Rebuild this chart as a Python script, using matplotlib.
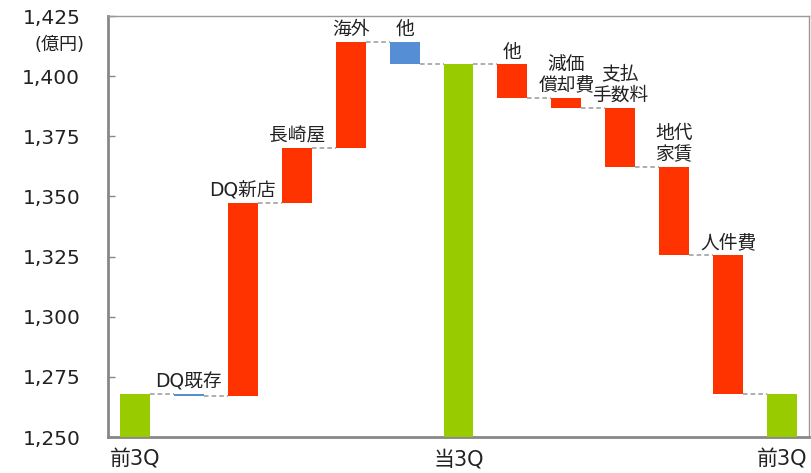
import numpy as np
import matplotlib
matplotlib.use("Agg")
import matplotlib.pyplot as plt

plt.rcParams['font.family'] = ['DejaVu Sans', 'Noto Sans CJK JP']

categories = ["前3Q", "DQ既存", "DQ新店", "長崎屋", "海外", "他", "当3Q",
              "他", "減価\n償却費", "支払\n手数料", "地代\n家賃", "人件費", "前3Q"]
# kind: total bars or change bars
kinds = ["total", "change", "change", "change", "change", "change", "total",
         "change", "change", "change", "change", "change", "total"]
values = [1267.8, -0.7, 80.1, 22.8, 44.4, -9.5, 1404.9,
          -13.8, -4.2, -24.8, -36.3, -58.0, 1267.8]
colors = ["#99CC00", "#558ED5", "#FF3300", "#FF3300", "#FF3300", "#558ED5", "#99CC00",
          "#FF3300", "#FF3300", "#FF3300", "#FF3300", "#FF3300", "#99CC00"]
xtick_labels = {0: "前3Q", 6: "当3Q", 12: "前3Q"}
yticks = [1250, 1275, 1300, 1325, 1350, 1375, 1400, 1425]

fig = plt.figure(figsize=(8.11, 4.73), dpi=100)
ax = fig.add_axes([108/811, 1-437/473, 701/811, (437-16)/473])

YMIN = 1250
bottoms, tops, levels = [], [], []
level = 0.0
for k, v in zip(kinds, values):
    if k == "total":
        b, t = YMIN, v
        level = v
    else:
        start = level
        level = level + v
        b, t = min(start, level), max(start, level)
    bottoms.append(b)
    tops.append(t)
    levels.append(level)

x = np.arange(len(categories))
w = 0.555
ax.bar(x, np.array(tops) - np.array(bottoms), bottom=bottoms, width=w,
       color=colors, edgecolor='none', zorder=3)

# connectors
for i in range(len(x) - 1):
    ax.plot([x[i] + w/2, x[i+1] - w/2], [levels[i], levels[i]],
            ls=(0, (3, 2)), color='#999999', lw=1.1, zorder=2)

# labels above change bars
for i, (k, cat) in enumerate(zip(kinds, categories)):
    if k == "change":
        ax.annotate(cat, (x[i], tops[i]), xytext=(0, 2), textcoords='offset points',
                    ha='center', va='bottom', fontsize=13.5, color='#222222',
                    linespacing=1.15)

ax.set_xlim(-0.5, len(categories) - 0.5)
ax.set_ylim(1250, 1425)
ax.set_yticks(yticks)
ax.set_yticklabels([f"{t:,}" for t in yticks], fontsize=14.5, color='#222222')
ax.tick_params(axis='y', direction='in', length=5, width=1, color='#888888', pad=20)
ax.set_xticks(list(xtick_labels.keys()))
ax.set_xticklabels(list(xtick_labels.values()), fontsize=15, color='#222222')
ax.tick_params(axis='x', length=0, pad=9)

for s in ['top', 'right']:
    ax.spines[s].set_color('#999999')
    ax.spines[s].set_linewidth(1.0)
for s in ['left', 'bottom']:
    ax.spines[s].set_color('#888888')
    ax.spines[s].set_linewidth(2.0)

fig.text(84/811, 1-45/473, "(億円)", ha='right', va='center', fontsize=13, color='#222222')

fig.savefig("out.png", dpi=100)
